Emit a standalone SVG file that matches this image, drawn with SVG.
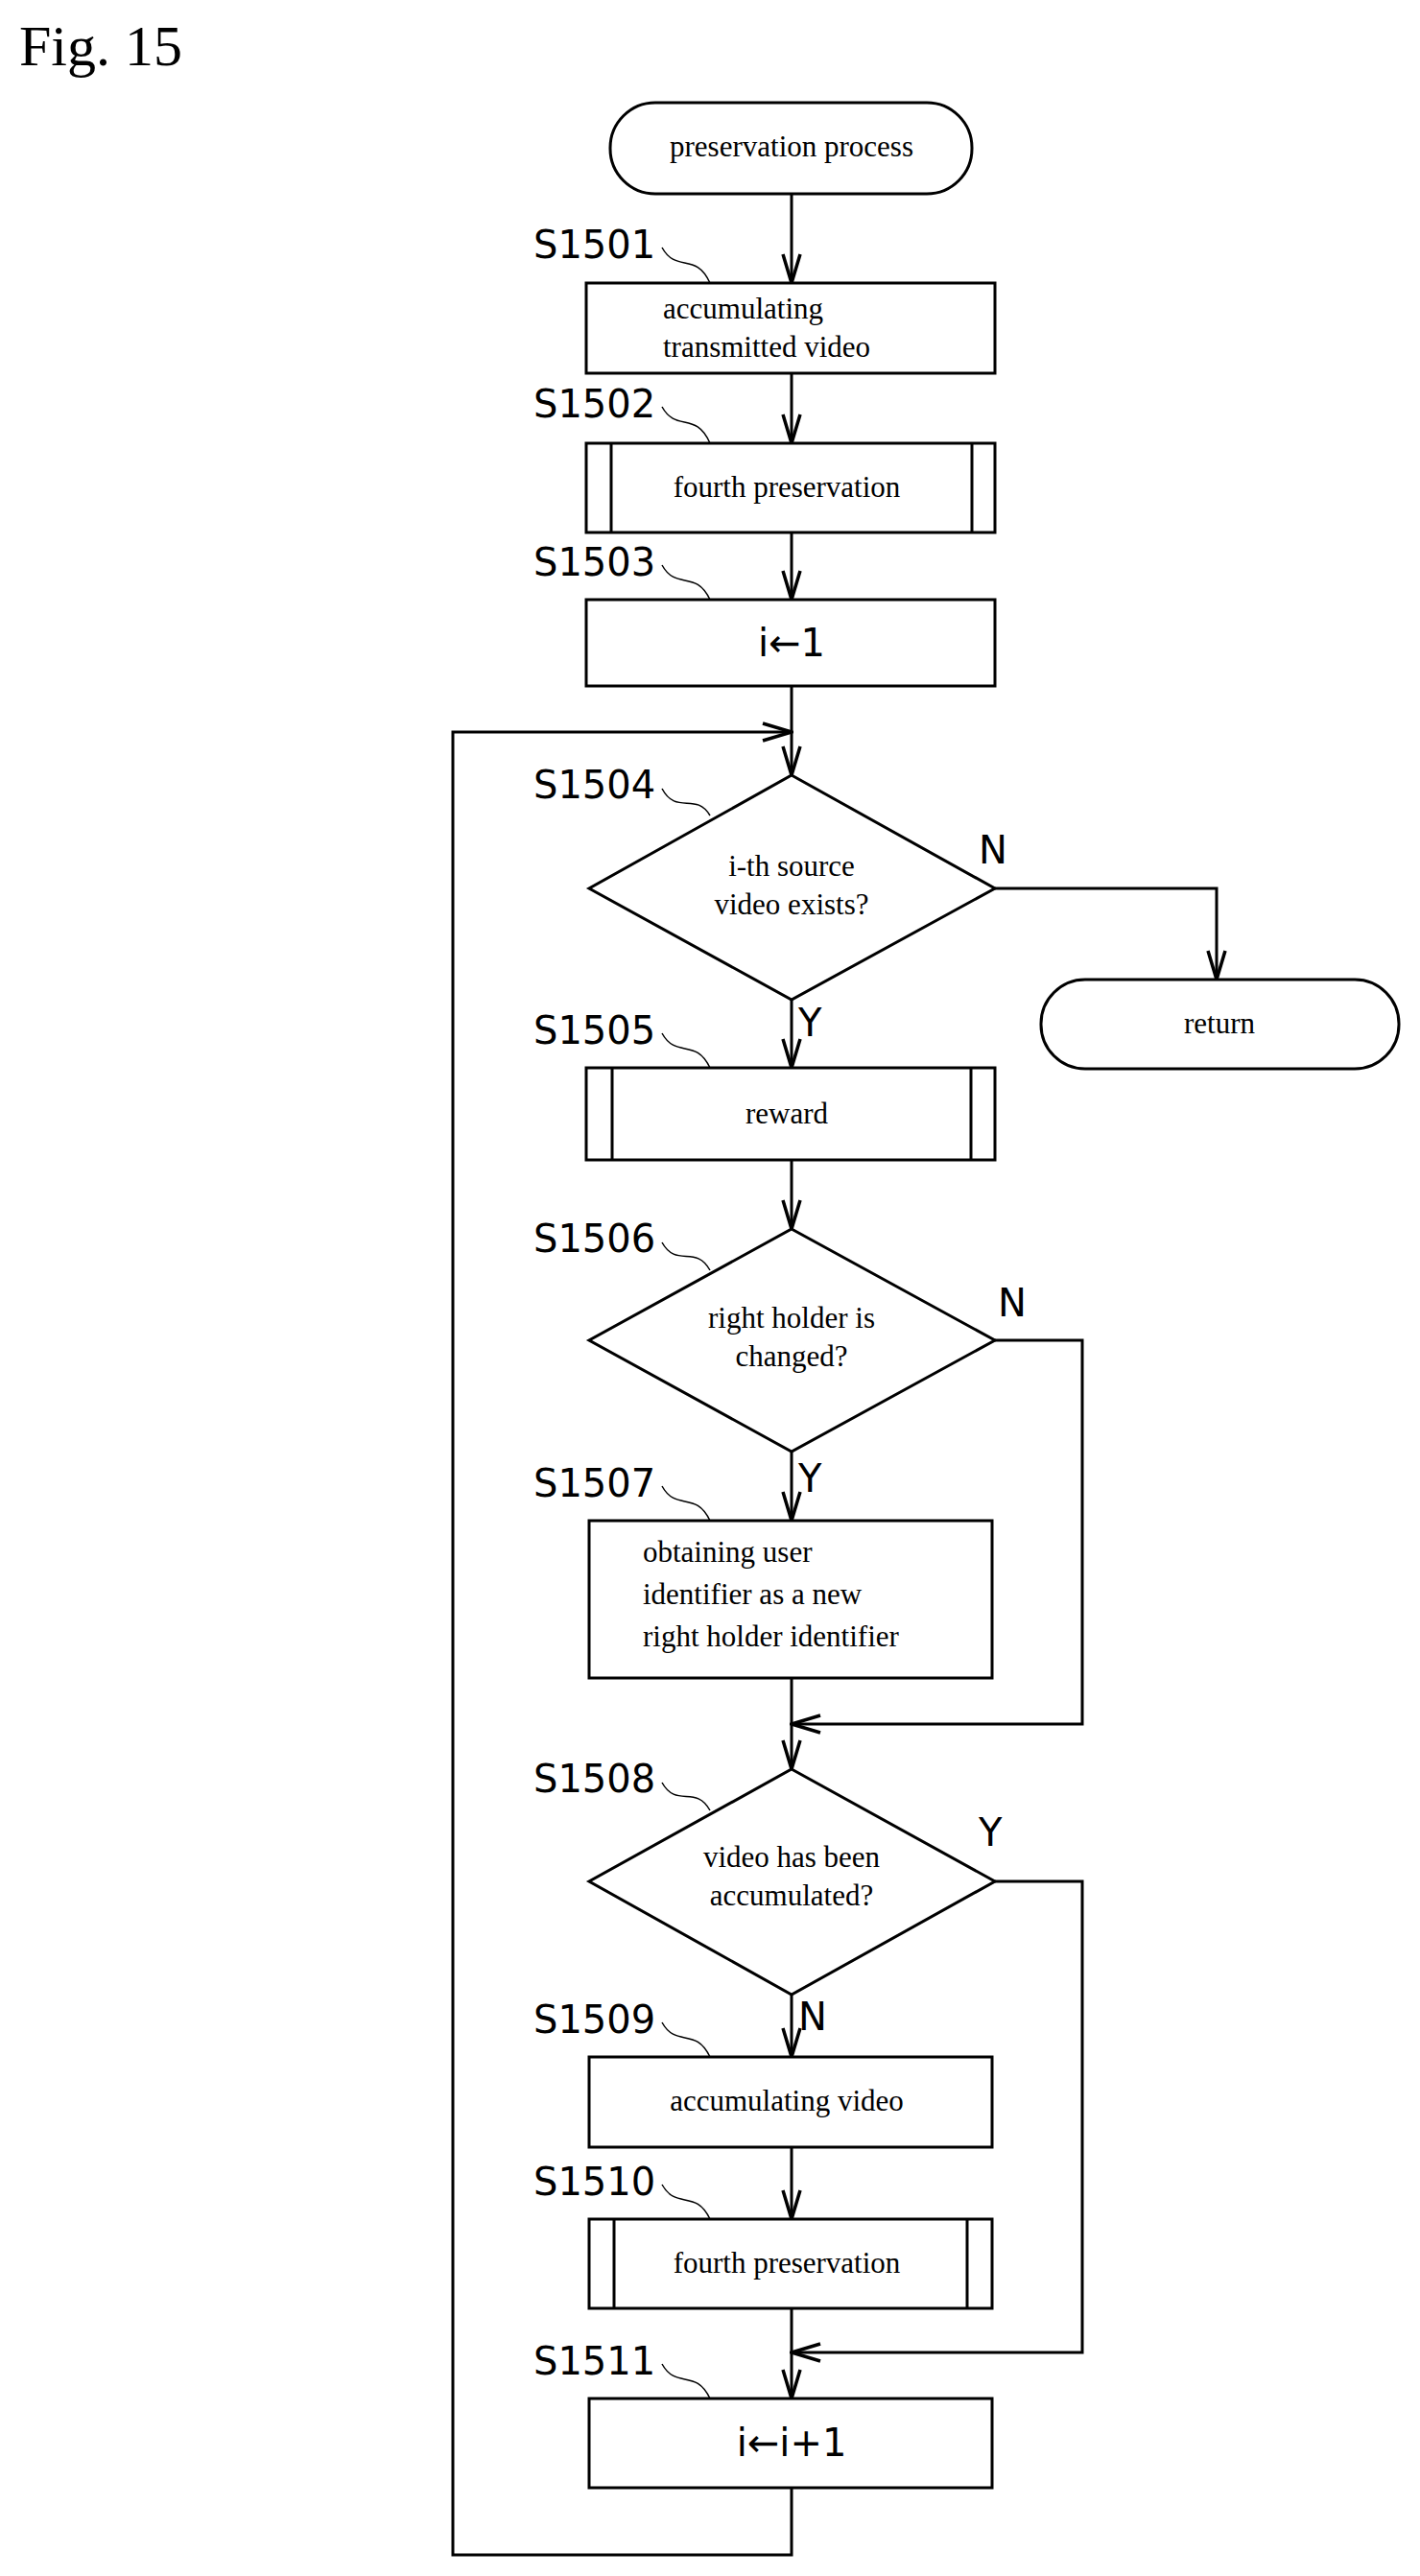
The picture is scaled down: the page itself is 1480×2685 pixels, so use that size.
<svg xmlns="http://www.w3.org/2000/svg" width="1480" height="2685" viewBox="0 0 1480 2685">
<style>
.s{fill:#fff;stroke:#000;stroke-width:3}
.l{fill:none;stroke:#000;stroke-width:3}
.t{font-family:"Liberation Serif",serif;font-size:31px;fill:#000}
.c{text-anchor:middle}
.lb{font-family:"DejaVu Sans",sans-serif;font-size:40px;fill:#000}
.q{fill:none;stroke:#000;stroke-width:1.5}
</style>
<defs>
<marker id="a" viewBox="-32 -12 34 24" refX="0" refY="0" markerWidth="34" markerHeight="24" markerUnits="userSpaceOnUse" orient="auto">
<path d="M-30,-9 L0,0 L-30,9" fill="none" stroke="#000" stroke-width="3.5"/>
</marker>
</defs>
<rect width="1480" height="2685" fill="#fff"/>
<text x="20" y="68" font-family="Liberation Serif,serif" font-size="60">Fig. 15</text>
<g id="connectors">
<line class="l" x1="825" y1="203" x2="825" y2="295" marker-end="url(#a)"/>
<line class="l" x1="825" y1="389" x2="825" y2="462" marker-end="url(#a)"/>
<line class="l" x1="825" y1="555" x2="825" y2="625" marker-end="url(#a)"/>
<line class="l" x1="825" y1="715" x2="825" y2="808" marker-end="url(#a)"/>
<polyline class="l" points="1037,926 1268,926 1268,1021" marker-end="url(#a)"/>
<line class="l" x1="825" y1="1042" x2="825" y2="1113" marker-end="url(#a)"/>
<line class="l" x1="825" y1="1209" x2="825" y2="1281" marker-end="url(#a)"/>
<line class="l" x1="825" y1="1513" x2="825" y2="1585" marker-end="url(#a)"/>
<polyline class="l" points="1037,1397 1128,1397 1128,1797 825,1797" marker-end="url(#a)"/>
<line class="l" x1="825" y1="1749" x2="825" y2="1844" marker-end="url(#a)"/>
<line class="l" x1="825" y1="2079" x2="825" y2="2144" marker-end="url(#a)"/>
<line class="l" x1="825" y1="2238" x2="825" y2="2313" marker-end="url(#a)"/>
<polyline class="l" points="1037,1961 1128,1961 1128,2452 825,2452" marker-end="url(#a)"/>
<line class="l" x1="825" y1="2406" x2="825" y2="2500" marker-end="url(#a)"/>
<polyline class="l" points="825,2593 825,2663 472,2663 472,763 825,763" marker-end="url(#a)"/>
<text class="lb" x="1020" y="900">N</text>
<text class="lb" x="832" y="1080">Y</text>
<text class="lb" x="1040" y="1372">N</text>
<text class="lb" x="832" y="1555">Y</text>
<text class="lb" x="1020" y="1924">Y</text>
<text class="lb" x="832" y="2116">N</text>
</g>
<g id="start"><rect class="s" x="636" y="107" width="377" height="95" rx="47"/><text class="t c" x="825" y="163">preservation process</text></g>
<g id="S1501"><text class="lb" x="556" y="269">S1501</text><path class="q" d="M690,258 C705,285 725,262 740,295"/><rect class="s" x="611" y="295" width="426" height="94"/><text class="t" x="691" y="332">accumulating</text><text class="t" x="691" y="372">transmitted video</text></g>
<g id="S1502"><text class="lb" x="556" y="435">S1502</text><path class="q" d="M690,424 C705,451 725,428 740,462"/><rect class="s" x="611" y="462" width="426" height="93"/><line class="l" x1="637" y1="462" x2="637" y2="555"/><line class="l" x1="1013" y1="462" x2="1013" y2="555"/><text class="t c" x="820" y="518">fourth preservation</text></g>
<g id="S1503"><text class="lb" x="556" y="600">S1503</text><path class="q" d="M690,589 C705,616 725,593 740,625"/><rect class="s" x="611" y="625" width="426" height="90"/><text class="lb c" x="825" y="684">i←1</text></g>
<g id="S1504"><text class="lb" x="556" y="832">S1504</text><path class="q" d="M690,822 C705,850 725,825 740,850"/><polygon class="s" points="825,808 1037,926 825,1042 614,926"/><text class="t c" x="825" y="913">i-th source</text><text class="t c" x="825" y="953">video exists?</text></g>
<g id="return"><rect class="s" x="1085" y="1021" width="373" height="93" rx="46"/><text class="t c" x="1271" y="1077">return</text></g>
<g id="S1505"><text class="lb" x="556" y="1088">S1505</text><path class="q" d="M690,1077 C705,1104 725,1081 740,1113"/><rect class="s" x="611" y="1113" width="426" height="96"/><line class="l" x1="638" y1="1113" x2="638" y2="1209"/><line class="l" x1="1012" y1="1113" x2="1012" y2="1209"/><text class="t c" x="820" y="1171">reward</text></g>
<g id="S1506"><text class="lb" x="556" y="1305">S1506</text><path class="q" d="M690,1295 C705,1322 725,1297 740,1324"/><polygon class="s" points="825,1281 1037,1397 825,1513 614,1397"/><text class="t c" x="825" y="1384">right holder is</text><text class="t c" x="825" y="1424">changed?</text></g>
<g id="S1507"><text class="lb" x="556" y="1560">S1507</text><path class="q" d="M690,1549 C705,1576 725,1553 740,1585"/><rect class="s" x="614" y="1585" width="420" height="164"/><text class="t" x="670" y="1628">obtaining user</text><text class="t" x="670" y="1672">identifier as a new</text><text class="t" x="670" y="1716">right holder identifier</text></g>
<g id="S1508"><text class="lb" x="556" y="1868">S1508</text><path class="q" d="M690,1858 C705,1885 725,1860 740,1887"/><polygon class="s" points="825,1844 1037,1961 825,2079 614,1961"/><text class="t c" x="825" y="1946">video has been</text><text class="t c" x="825" y="1986">accumulated?</text></g>
<g id="S1509"><text class="lb" x="556" y="2119">S1509</text><path class="q" d="M690,2108 C705,2135 725,2112 740,2144"/><rect class="s" x="614" y="2144" width="420" height="94"/><text class="t c" x="820" y="2200">accumulating video</text></g>
<g id="S1510"><text class="lb" x="556" y="2288">S1510</text><path class="q" d="M690,2277 C705,2304 725,2281 740,2313"/><rect class="s" x="614" y="2313" width="420" height="93"/><line class="l" x1="640" y1="2313" x2="640" y2="2406"/><line class="l" x1="1008" y1="2313" x2="1008" y2="2406"/><text class="t c" x="820" y="2369">fourth preservation</text></g>
<g id="S1511"><text class="lb" x="556" y="2475">S1511</text><path class="q" d="M690,2464 C705,2491 725,2468 740,2500"/><rect class="s" x="614" y="2500" width="420" height="93"/><text class="lb c" x="825" y="2560">i←i+1</text></g>
</svg>
